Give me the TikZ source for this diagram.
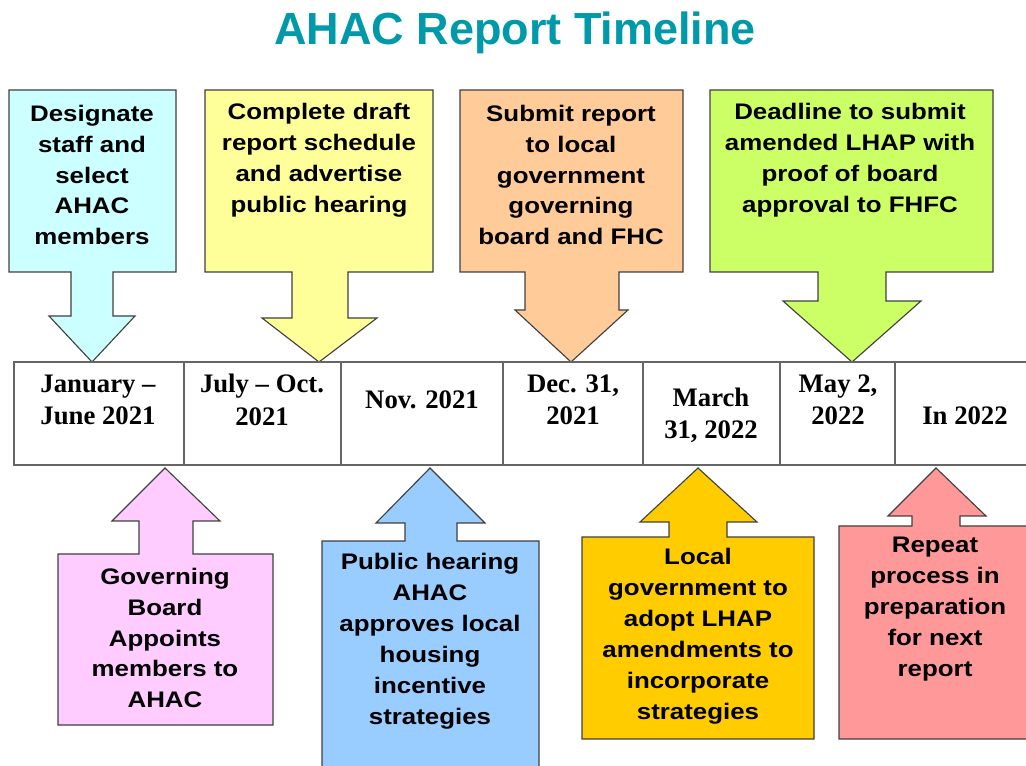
\documentclass[tikz,border=0pt]{standalone}
\usepackage{fontspec}
\newfontfamily\boxfont{Liberation Sans}[FakeStretch=1.15]
\newfontfamily\titlefont{Liberation Sans}
\newfontfamily\datefont{Liberation Serif}[Ligatures=TeX]
\definecolor{titleteal}{HTML}{0099AA}
\definecolor{calloutline}{HTML}{404040}
\definecolor{timelinegray}{HTML}{666666}
\definecolor{cyanfill}{HTML}{CCFFFF}
\definecolor{yellowfill}{HTML}{FFFF99}
\definecolor{orangefill}{HTML}{FFCC99}
\definecolor{greenfill}{HTML}{CCFF66}
\definecolor{pinkfill}{HTML}{FFCCFF}
\definecolor{bluefill}{HTML}{99CCFF}
\definecolor{goldfill}{HTML}{FFCC00}
\definecolor{salmonfill}{HTML}{FF9999}
\tikzset{
  callout/.style={draw=calloutline, line width=0.8pt, line join=miter},
  timeline/.style={draw=timelinegray, line width=1.1pt},
  boxtext/.style={align=center, inner sep=0pt, font=\boxfont\bfseries\fontsize{16}{22}\selectfont},
  datetext/.style={align=center, inner sep=0pt, font=\datefont\bfseries\fontsize{19}{23}\selectfont},
}
\begin{document}
\begin{tikzpicture}[x=0.025cm, y=-0.025cm]
      \useasboundingbox (0,0) rectangle (1026,766);
      \clip (0,0) rectangle (1026,766);
      \node[font=\titlefont\bfseries\fontsize{32}{38}\selectfont, text=titleteal] (title) at (515,33){AHAC Report Timeline};
      % callouts above the line
      \draw[callout, fill=cyanfill] (9,90) -- (176,90) -- (176,272) -- (113,272) -- (113,316) -- (135,316) -- (92,362) -- (49,316) -- (71,316) -- (71,272) -- (9,272) -- cycle;
      \draw[callout, fill=yellowfill] (205,90) -- (433,90) -- (433,272) -- (348,272) -- (348,318) -- (377,318) -- (319,362) -- (262,318) -- (292,318) -- (292,272) -- (205,272) -- cycle;
      \draw[callout, fill=orangefill] (460,90) -- (683,90) -- (683,272) -- (619,272) -- (619,310) -- (628,310) -- (571,362) -- (515,310) -- (525,310) -- (525,272) -- (460,272) -- cycle;
      \draw[callout, fill=greenfill] (710,90) -- (993,90) -- (993,272) -- (886,272) -- (886,301) -- (921,301) -- (852,362) -- (783,301) -- (818,301) -- (818,272) -- (710,272) -- cycle;
      % callouts below the line
      \draw[callout, fill=pinkfill] (58,725) -- (58,554) -- (139,554) -- (139,521) -- (112,521) -- (165,468) -- (220,521) -- (193,521) -- (193,554) -- (273,554) -- (273,725) -- cycle;
      \draw[callout, fill=bluefill] (322,780) -- (322,541) -- (405,541) -- (405,523) -- (376,523) -- (430,468) -- (485,523) -- (457,523) -- (457,541) -- (539,541) -- (539,780) -- cycle;
      \draw[callout, fill=goldfill] (582,739) -- (582,537) -- (669,537) -- (669,522) -- (640,522) -- (698,468) -- (757,522) -- (727,522) -- (727,537) -- (814,537) -- (814,739) -- cycle;
      \draw[callout, fill=salmonfill] (839,739) -- (839,526) -- (912,526) -- (912,516) -- (888,516) -- (936,468) -- (986,516) -- (960,516) -- (960,526) -- (1040,526) -- (1040,739) -- cycle;
      % the line itself
      \draw[timeline] (1040,362) -- (14,362) -- (14,465) -- (1040,465);
      \foreach \x in {184,341,503,643,780,895}
        \draw[timeline] (\x,362) -- (\x,465);
      \node[datetext] (jan) at (98,400){January \textendash\\June 2021};
      \node[datetext] (jul) at (262,400){July \textendash{} Oct.\\2021};
      \node[datetext] (nov) at (422,400){Nov. 2021};
      \node[datetext] (dec) at (573,400){Dec. 31,\\2021};
      \node[datetext] (mar) at (711,415){March\\31, 2022};
      \node[datetext] (may) at (838,400){May 2,\\2022};
      \node[datetext] (in22) at (965,416){In 2022};
      \node[boxtext] (designate) at (92,175){Designate\\staff and\\select\\AHAC\\members};
      \node[boxtext] (draft) at (319,160){Complete draft\\report schedule\\and advertise\\public hearing};
      \node[boxtext] (submit) at (571,175){Submit report\\to local\\government\\governing\\board and FHC};
      \node[boxtext] (deadline) at (850,160){Deadline to submit\\amended LHAP with\\proof of board\\approval to FHFC};
      \node[boxtext] (appoints) at (165,638){Governing\\Board\\Appoints\\members to\\AHAC};
      \node[boxtext] (hearing) at (430,641){Public hearing\\AHAC\\approves local\\housing\\incentive\\strategies};
      \node[boxtext] (adopt) at (698,636){Local\\government to\\adopt LHAP\\amendments to\\incorporate\\strategies};
      \node[boxtext] (repeat) at (935,609){Repeat\\process in\\preparation\\for next\\report};
\end{tikzpicture}
\end{document}
